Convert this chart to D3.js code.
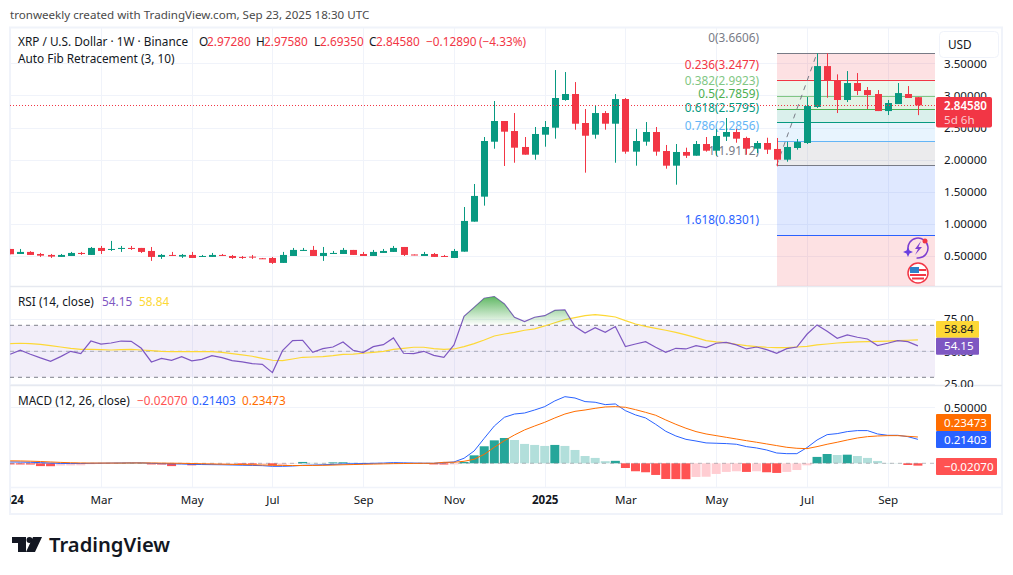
<!DOCTYPE html>
<html>
<head>
<meta charset="utf-8">
<script src="https://cdn.jsdelivr.net/npm/d3@7"></script>
<style>
  html, body { margin: 0; padding: 0; background: #fff; }
  svg { display: block; }
  text { font-family: "Noto Sans", "Open Sans", sans-serif; font-size: 11.8px; }
</style>
</head>
<body>
<div id="chart"></div>
<script>
// weekly candles
const opens = [.611,.533,.565,.533,.518,.487,.502,.549,.518,.627,.596,.611,.627,.627,.580,.487,.518,.492,.518,.492,.487,.518,.502,.487,.492,.466,.471,.394,.502,.580,.596,.502,.533,.533,.596,.533,.502,.549,.565,.642,.525,.502,.533,.502,.471,.569,1.036,1.425,2.280,2.602,2.446,2.198,2.078,2.389,2.498,2.929,3.022,2.571,2.389,2.726,2.560,2.944,2.125,2.280,2.431,2.135,1.907,2.120,2.062,2.244,2.140,2.358,2.431,2.338,2.171,2.260,2.167,2.000,2.182,2.260,2.820,3.457,3.235,2.929,3.193,3.084,3.022,2.757,2.866,3.022,2.9728];
const highs = [.611,.611,.576,.549,.533,.533,.565,.565,.642,.658,.736,.658,.658,.627,.642,.533,.565,.533,.565,.518,.549,.533,.518,.502,.518,.471,.487,.565,.627,.627,.658,.642,.580,.627,.596,.565,.596,.611,.658,.642,.525,.565,.549,.518,.611,1.264,1.622,2.353,2.913,2.602,2.726,2.353,2.509,2.602,3.395,3.364,3.208,2.789,2.851,2.757,3.022,2.960,2.478,2.586,2.509,2.229,2.244,2.187,2.291,2.353,2.478,2.649,2.478,2.358,2.291,2.342,2.338,2.280,2.322,2.975,3.655,3.655,3.328,3.379,3.348,3.131,3.084,2.929,3.193,3.146,2.9758];
const lows = [.529,.533,.518,.487,.471,.487,.502,.518,.518,.533,.580,.565,.596,.549,.425,.456,.502,.471,.471,.487,.487,.502,.456,.456,.456,.456,.378,.394,.502,.580,.502,.425,.533,.533,.518,.502,.502,.549,.565,.502,.513,.502,.487,.487,.471,.569,1.036,1.285,2.171,1.902,1.953,2.078,2.000,2.202,2.327,2.918,2.467,1.798,2.327,2.467,1.953,2.093,1.907,2.218,2.062,1.860,1.611,2.027,2.062,2.125,2.062,2.291,2.264,2.078,2.104,2.089,1.897,1.969,2.156,2.244,2.804,2.964,2.726,2.897,3.006,2.789,2.757,2.695,2.866,2.960,2.6935];
const closes = [.529,.565,.518,.507,.492,.518,.549,.533,.627,.580,.611,.627,.611,.565,.487,.518,.507,.518,.471,.502,.518,.507,.471,.476,.482,.460,.394,.518,.596,.596,.502,.549,.549,.596,.518,.502,.565,.580,.627,.518,.513,.533,.487,.487,.580,1.047,1.436,2.291,2.602,2.436,2.187,2.078,2.400,2.509,2.960,3.022,2.560,2.373,2.726,2.560,2.944,2.125,2.291,2.431,2.125,1.907,2.120,2.062,2.244,2.140,2.369,2.431,2.327,2.171,2.260,2.156,2.000,2.198,2.275,2.835,3.457,3.229,2.929,3.193,3.069,3.006,2.757,2.882,3.037,2.960,2.8458];

const rsi = [47.7,50.8,47.7,44.9,42.3,45.9,50,48.2,57.9,55.6,56.4,57.9,57.7,52.3,41.8,44.6,43.1,45.9,42.6,43.8,46.7,45.1,42.8,41.8,40.5,40,33.6,50.5,58.2,58.5,49.2,52,53.3,57.2,50.8,49,53.6,55.1,60.3,48.5,48.2,50,46.9,45.4,54.9,76.9,83.8,90.8,92.1,86.4,76.2,72.8,76.2,77.4,81.5,81.8,69,64.1,68.2,64.6,69,53.6,55.6,57.4,53.1,49.2,52.3,51.8,54.4,52.8,56.2,56.9,54.9,51.8,53.3,51.3,48.5,52,53.3,63.1,70.3,65.4,60,62.6,60.8,59.5,54.4,56.2,58.2,57.4,54.15];
const rsiMa = [55.9,56.2,55.9,55.4,54.4,53.3,52.3,51.5,51.5,51.3,51,51.3,51.5,51,50.5,50,49.7,49.7,49.7,49.7,49.7,49.2,48.2,47.2,46.2,44.6,43.1,42.8,44.1,45.4,45.6,45.9,46.7,47.7,47.9,48.5,49.2,50,51.5,52.3,53.1,53.1,52,51.5,51.8,53.6,55.9,58.7,61.8,63.3,64.6,66.2,67.2,69.5,72,74.4,75.9,77.4,78.2,77.4,76.4,73.6,71,69.2,67.7,66.2,64.6,62.6,60.5,58.2,57.2,56.7,55.4,54.4,53.6,53.1,52.8,52.8,53.3,53.8,54.9,55.6,56.4,56.9,57.2,57.4,57.7,57.9,58.2,58.5,58.84];

const macdLine = [.012,.011,.009,.006,.002,-.001,-.002,-.002,0,.001,.002,.003,.004,.004,0,-.003,-.005,-.006,-.009,-.011,-.012,-.013,-.015,-.017,-.019,-.021,-.027,-.027,-.024,-.018,-.016,-.013,-.010,-.006,-.004,-.002,0,.002,.006,.004,.002,.001,0,.006,.012,.045,.110,.223,.333,.411,.440,.449,.476,.506,.557,.595,.583,.551,.545,.524,.530,.470,.432,.405,.348,.286,.244,.214,.199,.182,.179,.176,.170,.149,.137,.119,.092,.086,.086,.140,.208,.256,.265,.283,.292,.292,.262,.250,.250,.238,.21403];
const signalLine = [.022,.021,.019,.016,.012,.008,.005,.003,.002,.002,.002,.002,.003,.003,.003,.002,.001,0,-.002,-.004,-.006,-.008,-.010,-.011,-.013,-.015,-.017,-.019,-.020,-.020,-.019,-.018,-.016,-.013,-.011,-.009,-.007,-.005,-.003,-.002,-.001,0,0,.009,.009,.018,.036,.080,.143,.202,.253,.298,.333,.366,.405,.440,.464,.476,.491,.503,.506,.500,.479,.455,.429,.387,.348,.313,.283,.262,.247,.232,.217,.202,.188,.173,.158,.143,.134,.131,.149,.170,.188,.208,.226,.238,.244,.247,.247,.241,.23473];
const histogram = [-.010,-.0105,-.011,-.025,-.026,-.020,-.019,-.018,-.008,-.002,-.001,.003,.0035,.004,-.010,-.011,-.025,-.010,-.018,-.012,-.011,-.010,-.006,-.010,-.011,-.008,-.020,-.015,-.004,.012,.004,.003,.008,.009,.005,.004,.003,.002,.003,.001,-.001,-.002,-.010,-.011,-.010,.012,.071,.152,.205,.226,.208,.173,.164,.155,.164,.155,.119,.065,.048,.019,.022,-.042,-.071,-.080,-.104,-.140,-.141,-.142,-.122,-.120,-.095,-.077,-.071,-.077,-.071,-.080,-.086,-.077,-.060,-.018,.057,.083,.074,.077,.065,.048,.021,.003,.002,-.015,-.0207];

const priceTicks = [0.5, 1, 1.5, 2, 2.5, 3, 3.5];
const rsiTicks = [25, 50, 75];
const macdTicks = [0.5];
const timeTicks = [0, 9, 18, 26, 35, 44, 53, 61, 70, 79, 87];
const timeLabels = ["2024", "Mar", "May", "Jul", "Sep", "Nov", "2025", "Mar", "May", "Jul", "Sep"];

const fibRatios = [0, 0.236, 0.382, 0.5, 0.618, 0.786, 1, 1.618];
const fibPrices = [3.6606, 3.2477, 2.9923, 2.7859, 2.5795, 2.2856, 1.9112, 0.8301];
const fibColors = ["#787b86", "#f23645", "#81c784", "#4caf50", "#089981", "#64b5f6", "#787b86", "#2962ff"];

const width = 1013, height = 575;
const paneLeft = 10, paneRight = 935, mainTop = 28, mainBottom = 286;
const rsiTop = 288, rsiBottom = 384, macdTop = 387, macdBottom = 487;
const up = "#089981", down = "#f23645", gridColor = "#f0f3fa", textColor = "#131722";
const axisFont = "11.6px";

const x = d3.scaleLinear().domain([0, 90]).range([10.2, 917.9]);
const yPrice = d3.scaleLinear().domain([0.5, 3.5]).range([256.1, 63.3]);
const yRsi = d3.scaleLinear().domain([30, 70]).range([377.3, 325.3]);
const yMacd = d3.scaleLinear().domain([0, 0.5]).range([463.3, 407.3]);

const svg = d3.select("#chart").append("svg").attr("width", width).attr("height", height);
const defs = svg.append("defs");

function addClip(id, x0, y0, x1, y1) {
  defs.append("clipPath").attr("id", id).append("rect")
    .attr("x", x0).attr("y", y0).attr("width", x1 - x0).attr("height", y1 - y0);
}
addClip("clipMain", paneLeft, mainTop, paneRight, mainBottom);
addClip("clipRsi", paneLeft, rsiTop, paneRight, rsiBottom);
addClip("clipMacd", paneLeft, macdTop, paneRight, macdBottom);
addClip("clipOver", paneLeft, rsiTop, paneRight, yRsi(70));
addClip("clipTime", paneLeft, macdBottom, width, 514);
addClip("clipRsiAxis", paneRight, rsiTop, width, 387);

const grad = defs.append("linearGradient").attr("id", "overGrad")
  .attr("gradientUnits", "userSpaceOnUse").attr("x1", 0).attr("x2", 0)
  .attr("y1", yRsi(95)).attr("y2", yRsi(70));
grad.append("stop").attr("offset", 0).attr("stop-color", "#4caf50").attr("stop-opacity", 1);
grad.append("stop").attr("offset", 1).attr("stop-color", "#4caf50").attr("stop-opacity", 0);

// header
svg.append("text").attr("x", 10).attr("y", 19).attr("fill", "#4a4a4a").style("font-size", "11.6px").text("tronweekly created with TradingView.com, Sep 23, 2025 18:30 UTC");

// frame
svg.append("rect").attr("x", 10).attr("y", 27.5).attr("width", 992).attr("height", 486.5)
  .attr("fill", "none").attr("stroke", gridColor).attr("stroke-width", 2);

// grid
const grid = svg.append("g").attr("stroke", gridColor).attr("stroke-width", 1);
timeTicks.forEach(t => {
  grid.append("line").attr("x1", Math.round(x(t)) + .5).attr("x2", Math.round(x(t)) + .5).attr("y1", mainTop).attr("y2", macdBottom);
});
priceTicks.forEach(p => {
  grid.append("line").attr("x1", paneLeft).attr("x2", paneRight).attr("y1", Math.round(yPrice(p)) + .5).attr("y2", Math.round(yPrice(p)) + .5);
});
rsiTicks.forEach(p => {
  grid.append("line").attr("x1", paneLeft).attr("x2", paneRight).attr("y1", Math.round(yRsi(p)) + .5).attr("y2", Math.round(yRsi(p)) + .5);
});
macdTicks.forEach(p => {
  grid.append("line").attr("x1", paneLeft).attr("x2", paneRight).attr("y1", Math.round(yMacd(p)) + .5).attr("y2", Math.round(yMacd(p)) + .5);
});
[[286.5, "#e6e9f0"], [385.5, "#e6e9f0"], [487.5, gridColor]].forEach(d => {
  svg.append("line").attr("x1", paneLeft).attr("x2", 1002).attr("y1", d[0]).attr("y2", d[0])
    .attr("stroke", d[1]).attr("stroke-width", 1.5);
});

// auto fib zones and levels
const fibLeft = 777;
const fib = svg.append("g").attr("clip-path", "url(#clipMain)");
fibPrices.forEach((p, i) => {
  const next = i < fibPrices.length - 1 ? yPrice(fibPrices[i + 1]) : mainBottom;
  fib.append("rect").attr("x", fibLeft).attr("width", paneRight - fibLeft)
    .attr("y", yPrice(p)).attr("height", next - yPrice(p))
    .attr("fill", i === 0 || i === 7 ? "#f23645" : fibColors[i + 1])
    .attr("fill-opacity", 0.15);
  fib.append("text").attr("x", 759).attr("y", yPrice(p) - 15).attr("dy", "0.35em")
    .attr("text-anchor", "end").attr("fill", fibColors[i])
    .text(fibRatios[i] + "(" + p.toFixed(4) + ")");
});
fibPrices.forEach((p, i) => {
  const ly = Math.round(yPrice(p)) + .5;
  fib.append("line").attr("x1", fibLeft).attr("x2", paneRight).attr("y1", ly).attr("y2", ly)
    .attr("stroke", fibColors[i]).attr("stroke-width", 1);
});
fib.append("line").attr("x1", x(76)).attr("x2", x(80))
  .attr("y1", yPrice(fibPrices[6])).attr("y2", yPrice(fibPrices[0]))
  .attr("stroke", "#787b86").attr("stroke-width", 1).attr("stroke-dasharray", "5 5");

// candles
const candles = svg.append("g").attr("clip-path", "url(#clipMain)");
candles.selectAll("line.wick").data(d3.range(opens.length)).join("line")
  .attr("class", "wick")
  .attr("x1", i => Math.round(x(i)) + .5).attr("x2", i => Math.round(x(i)) + .5)
  .attr("y1", i => yPrice(highs[i])).attr("y2", i => yPrice(lows[i]))
  .attr("stroke", i => closes[i] >= opens[i] ? up : down);
candles.selectAll("rect.body").data(d3.range(opens.length)).join("rect")
  .attr("class", "body")
  .attr("x", i => Math.round(x(i)) + .5 - 3.5).attr("width", 7)
  .attr("y", i => yPrice(Math.max(opens[i], closes[i])))
  .attr("height", i => Math.max(1, Math.abs(yPrice(opens[i]) - yPrice(closes[i]))))
  .attr("fill", i => closes[i] >= opens[i] ? up : down);

// last price line
svg.append("line").attr("x1", paneLeft).attr("x2", paneRight)
  .attr("y1", Math.round(yPrice(2.8458)) + .5).attr("y2", Math.round(yPrice(2.8458)) + .5)
  .attr("stroke", down).attr("stroke-dasharray", "1 2");

// RSI pane
const rsiG = svg.append("g").attr("clip-path", "url(#clipRsi)");
rsiG.append("rect").attr("x", paneLeft).attr("width", paneRight - paneLeft)
  .attr("y", yRsi(70)).attr("height", yRsi(30) - yRsi(70))
  .attr("fill", "#7e57c2").attr("fill-opacity", 0.1);
const bandLines = [[70, 0.95], [50, 0.55], [30, 0.95]];
bandLines.forEach(b => {
  rsiG.append("line").attr("x1", paneLeft).attr("x2", paneRight)
    .attr("y1", yRsi(b[0])).attr("y2", yRsi(b[0]))
    .attr("stroke", "#787b86").attr("stroke-opacity", b[1]).attr("stroke-dasharray", "4 4");
});
const rsiIdx = d3.range(rsi.length);
svg.append("path").attr("clip-path", "url(#clipOver)")
  .attr("d", d3.area().x(i => x(i)).y0(yRsi(70)).y1(i => yRsi(rsi[i]))(rsiIdx))
  .attr("fill", "url(#overGrad)");
rsiG.append("path").attr("fill", "none").attr("stroke", "#fdd835").attr("stroke-width", 1.2)
  .attr("d", d3.line().x(i => x(i)).y(i => yRsi(rsiMa[i]))(rsiIdx));
rsiG.append("path").attr("fill", "none").attr("stroke", "#7e57c2").attr("stroke-width", 1.2)
  .attr("d", d3.line().x(i => x(i)).y(i => yRsi(rsi[i]))(rsiIdx));

// MACD pane
const macdG = svg.append("g").attr("clip-path", "url(#clipMacd)");
const histColor = i => {
  const prev = i > 0 ? histogram[i - 1] : 0;
  if (histogram[i] >= 0) return histogram[i] >= prev ? "#26a69a" : "#b2dfdb";
  return histogram[i] <= prev ? "#ff5252" : "#ffcdd2";
};
macdG.selectAll("rect").data(d3.range(histogram.length)).join("rect")
  .attr("x", i => x(i) - 4.5).attr("width", 9)
  .attr("y", i => Math.min(yMacd(0), yMacd(histogram[i])))
  .attr("height", i => Math.abs(yMacd(histogram[i]) - yMacd(0)))
  .attr("fill", histColor);
macdG.append("line").attr("x1", paneLeft).attr("x2", paneRight).attr("y1", yMacd(0)).attr("y2", yMacd(0))
  .attr("stroke", "#787b86").attr("stroke-opacity", 0.5).attr("stroke-dasharray", "4 4");
macdG.append("path").attr("fill", "none").attr("stroke", "#2962ff").attr("stroke-width", 1)
  .attr("d", d3.line().x(i => x(i)).y(i => yMacd(macdLine[i]))(rsiIdx));
macdG.append("path").attr("fill", "none").attr("stroke", "#ff6d00").attr("stroke-width", 1)
  .attr("d", d3.line().x(i => x(i)).y(i => yMacd(signalLine[i]))(rsiIdx));

// axes
function styleAxis(g) {
  g.select(".domain").remove();
  g.selectAll(".tick line").remove();
  g.selectAll("text").attr("fill", textColor).style("font-size", axisFont);
}
svg.append("g").attr("transform", "translate(944,0)")
  .call(d3.axisRight(yPrice).tickValues(priceTicks).tickFormat(d3.format(".5f")).tickSize(0).tickPadding(0))
  .call(styleAxis);
svg.append("g").attr("clip-path", "url(#clipRsiAxis)").append("g").attr("transform", "translate(944,0)")
  .call(d3.axisRight(yRsi).tickValues(rsiTicks).tickFormat(d3.format(".2f")).tickSize(0).tickPadding(0))
  .call(styleAxis);
svg.append("g").attr("transform", "translate(944,0)")
  .call(d3.axisRight(yMacd).tickValues(macdTicks).tickFormat(d3.format(".5f")).tickSize(0).tickPadding(0))
  .call(styleAxis);
svg.append("g").attr("clip-path", "url(#clipTime)").append("g").attr("transform", "translate(0,496)")
  .call(d3.axisBottom(x).tickValues(timeTicks).tickFormat((d, i) => timeLabels[i]).tickSize(0).tickPadding(0))
  .call(styleAxis)
  .selectAll("text")
  .style("font-weight", (d, i) => /^20/.test(timeLabels[i]) ? "700" : "400");

// axis tags
function tag(x0, x1, y0, y1, fill, label, color) {
  svg.append("rect").attr("x", x0).attr("y", y0).attr("width", x1 - x0).attr("height", y1 - y0).attr("rx", 1).attr("fill", fill);
  svg.append("text").attr("x", 944).attr("y", (y0 + y1) / 2).attr("dy", "0.35em")
    .attr("fill", color).style("font-size", axisFont).text(label);
}
svg.append("rect").attr("x", 936).attr("y", 97).attr("width", 56).attr("height", 30.5).attr("rx", 2).attr("fill", down);
svg.append("text").attr("x", 944).attr("y", 105.5).attr("dy", "0.35em").attr("fill", "#fff").style("font-size", axisFont).style("font-weight", "600").text("2.84580");
svg.append("text").attr("x", 944).attr("y", 120).attr("dy", "0.35em").attr("fill", "#fbc9cd").style("font-size", axisFont).text("5d 6h");
tag(936, 979, 321, 337.7, "#fdd835", "58.84", textColor);
tag(936, 979, 337.7, 354.7, "#7e57c2", "54.15", "#fff");
tag(936, 991, 414, 431, "#ff6d00", "0.23473", "#fff");
tag(936, 991, 431, 448, "#2962ff", "0.21403", "#fff");
tag(936, 997, 458, 475, "#ff5252", "\u22120.02070", "#fff");

// USD button
svg.append("rect").attr("x", 939.5).attr("y", 31.5).attr("width", 59).attr("height", 26).attr("rx", 4)
  .attr("fill", "#fff").attr("stroke", "#f0f3fa");
svg.append("text").attr("x", 948).attr("y", 44.5).attr("dy", "0.35em").attr("fill", textColor).text("USD");

// legends
function legend(parts, y) {
  parts.forEach(p => {
    svg.append("text").attr("x", p[0]).attr("y", y).attr("dy", "0.35em").attr("fill", p[2] || textColor).text(p[1]);
  });
}
const redText = "#f23645";
legend([[18, "XRP / U.S. Dollar \u00b7 1W \u00b7 Binance"], [199, "O"], [207, "2.97280", redText], [256, "H"], [264, "2.97580", redText],
  [314, "L"], [320, "2.69350", redText], [369, "C"], [376, "2.84580", redText], [426, "\u22120.12890", redText], [479, "(\u22124.33%)", redText]], 41.5);
legend([[18, "Auto Fib Retracement (3, 10)"]], 59);
legend([[18, "RSI (14, close)"], [102, "54.15", "#7e57c2"], [139, "58.84", "#fdd835"]], 302);
legend([[18, "MACD (12, 26, close)"], [137, "\u22120.02070", "#ff5252"], [192, "0.21403", "#2962ff"], [242, "0.23473", "#ff6d00"]], 401);

// pane badges
const bolt = svg.append("g").attr("transform", "translate(918,248)");
bolt.append("circle").attr("r", 10).attr("fill", "none").attr("stroke", "#7e3fd0").attr("stroke-width", 1.5)
  .attr("transform", "rotate(170)").attr("stroke-dasharray", "50 13");
bolt.append("path").attr("d", "M3,-7 L-3,1 L0,1 L-3,7 L4,-1 L0.5,-1 Z").attr("fill", "#7e3fd0");
bolt.append("path").attr("d", "M-10,-1 L-8.5,2.5 L-5,4 L-8.5,5.5 L-10,9 L-11.5,5.5 L-15,4 L-11.5,2.5 Z").attr("fill", "#6a3fe0");
bolt.append("circle").attr("cx", 7).attr("cy", -7).attr("r", 2.5).attr("fill", "#f23645");
const flag = svg.append("g").attr("transform", "translate(918,273)");
flag.append("circle").attr("r", 10).attr("fill", "#fff").attr("stroke", "#f23645").attr("stroke-width", 1.5);
flag.append("rect").attr("x", -8).attr("y", -6).attr("width", 9).attr("height", 6).attr("fill", "#2f80c8");
flag.append("rect").attr("x", 1).attr("y", -4).attr("width", 7).attr("height", 2).attr("fill", "#f23645");
flag.append("rect").attr("x", -8).attr("y", 1).attr("width", 16).attr("height", 2).attr("fill", "#f23645");
flag.append("rect").attr("x", -6).attr("y", 4.5).attr("width", 12).attr("height", 2).attr("fill", "#f23645");

// logo
const logo = svg.append("g").attr("fill", "#131722");
logo.append("path").attr("d", "M12,537 H26 V552 H18 V543 H12 Z");
logo.append("circle").attr("cx", 29.5).attr("cy", 540).attr("r", 3);
logo.append("path").attr("d", "M42,537 L35,552 H26 L33,537 Z");
logo.append("text").attr("x", 49).attr("y", 551.5).style("font-size", "20.2px").style("font-weight", "600").text("TradingView");
</script>
</body>
</html>
